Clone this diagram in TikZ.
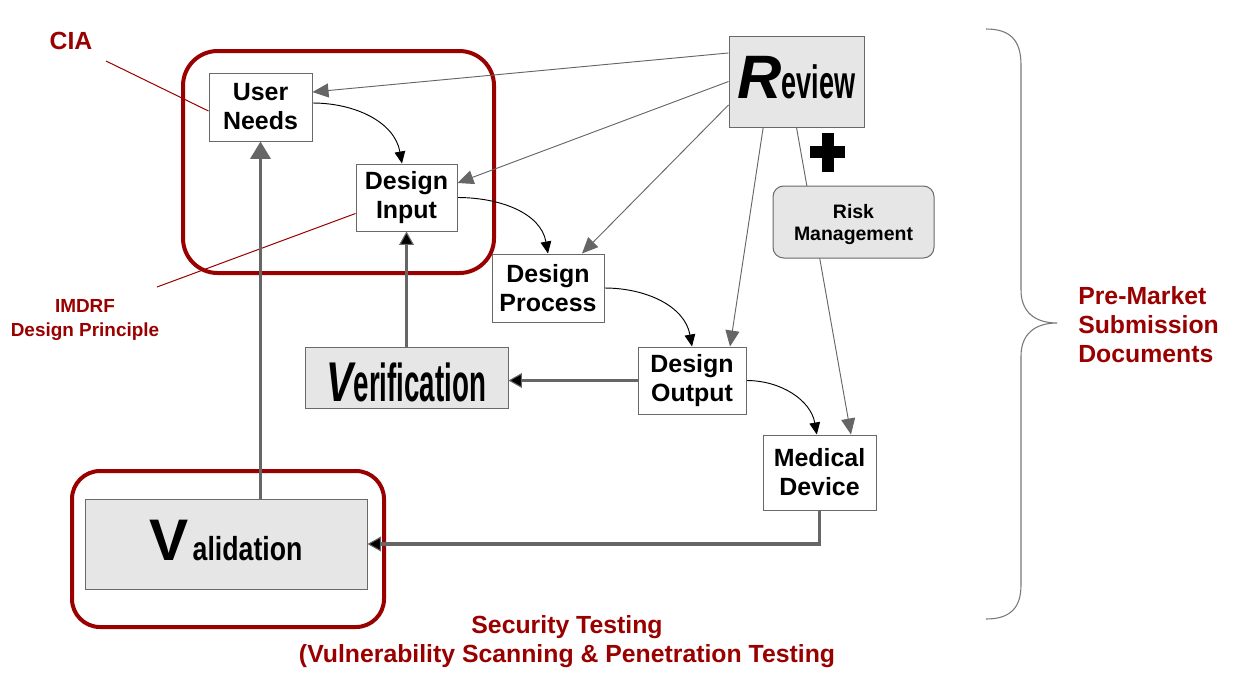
\documentclass[tikz,border=0pt]{standalone}
\usepackage{fontspec}
\setmainfont{Liberation Sans}
\usetikzlibrary{arrows.meta,backgrounds,calc}
\definecolor{dred}{RGB}{153,0,0}
\definecolor{lgray}{RGB}{102,102,102}
\definecolor{bfill}{RGB}{230,230,230}
\definecolor{bline}{RGB}{105,105,105}
\definecolor{brgray}{RGB}{120,120,120}
\tikzset{
  box/.style={draw=bline, line width=0.75pt, fill=white, align=center, inner sep=0pt,
    font=\bfseries\fontsize{18.7}{21.75}\selectfont},
  gbox/.style={box, fill=bfill},
  wd/.style={minimum width=#1*0.75pt},
  ht/.style={minimum height=#1*0.75pt},
  redframe/.style={draw=dred, line width=3pt},
  redlink/.style={draw=dred, line width=0.75pt},
  redtext/.style={text=dred, font=\bfseries\fontsize{18.6}{21.75}\selectfont, align=center, inner sep=0pt},
  revline/.style={draw=lgray, line width=0.7pt, -{Triangle[length=12pt,width=10.5pt,fill=lgray]}},
  flow/.style={draw=black, line width=0.7pt, -{Triangle[length=9pt,width=8pt]}},
  thickln/.style={draw=lgray, line width=2.4pt},
  thickhead/.style={thickln, -{Triangle[length=10pt,width=11pt,line width=0.8pt,fill=black]}},
  thickgray/.style={thickln, -{Triangle[length=13pt,width=15pt,fill=lgray]}}
}
\begin{document}
\begin{tikzpicture}[x=0.75pt,y=-0.75pt]
\useasboundingbox (0,0) rectangle (1244,676);

% boxes
\node[box, wd=103, ht=68] (un) at (260.5,107) {User\\Needs};
\node[box, wd=101, ht=67] (di) at (406.5,197.5) {Design\\Input};
\node[box, wd=112, ht=68] (dp) at (548,288) {Design\\Process};
\node[box, wd=108, ht=67] (do) at (692,380.5) {Design\\Output};
\node[box, wd=113, ht=75] (md) at (819.5,472.5) {Medical\\Device};
\node[gbox, wd=135, ht=91] (rv) at (796.5,81.5) {\raisebox{3pt}[\height][\depth]{{\fontsize{46}{46}\selectfont\bfseries\itshape R}\scalebox{0.58}[1]{\fontsize{35}{35}\selectfont\bfseries eview}}};
\node[gbox, wd=203, ht=61] (vf) at (406.5,377.5) {\raisebox{-4pt}[\height][\depth]{\scalebox{0.72}[1]{\fontsize{42}{42}\selectfont\bfseries\itshape V}\scalebox{0.52}[1]{\fontsize{40}{40}\selectfont\bfseries erification}}};
\node[gbox, wd=282, ht=90] (val) at (226,544) {\raisebox{3pt}[\height][\depth]{{\fontsize{44}{44}\selectfont\bfseries V}\kern3pt\scalebox{0.8}[1]{\fontsize{25}{25}\selectfont\bfseries alidation}}};
\node[gbox, wd=161, ht=72, rounded corners=8pt, font=\bfseries\fontsize{14.6}{18}\selectfont] (rm) at (853.5,222) {\raisebox{-2pt}[\height][\depth]{\begin{tabular}{@{}c@{}}Risk\\[-1.2pt]Management\end{tabular}}};

% labels
\node[redtext] (cia) at (71,41) {CIA};
\node[redtext, font=\bfseries\fontsize{14.2}{17.5}\selectfont] (imdrf) at (85,320) {IMDRF\\Design Principle};
\node[redtext] (sec) at (567,642) {Security Testing\\(Vulnerability Scanning \& Penetration Testing};
\node[redtext, anchor=west, align=left] (pms) at (1078,325) {Pre-Market\\Submission\\Documents};
\coordinate (ciaend) at (106,61);
\coordinate (imdrfend) at (157,287);

\begin{pgfonlayer}{background}
  % red frames
  \draw[redframe, rounded corners=26pt] (183,51) rectangle (494,273);
  \draw[redframe, rounded corners=21pt] (72,471) rectangle (384,627);
  % red pointer lines
  \draw[redlink] (ciaend) -- ([yshift=-3pt]un.west);
  \draw[redlink] (imdrfend) -- ([yshift=-12pt]di.west);
  % review lines
  \draw[revline] ([yshift=21.4pt]rv.west) -- ([yshift=11.25pt]un.east);
  \draw[revline] (rv.west) -- ([yshift=10.9pt]di.east);
  \draw[revline] ([yshift=-17.6pt]rv.west) -- ([xshift=25.5pt]dp.north);
  \draw[revline] ([xshift=-25pt]rv.south) -- ([xshift=28.5pt]do.north);
  \draw[revline] (rv.south) -- ([xshift=23.6pt]md.north);
  % flow curves
  \draw[flow] ([yshift=3pt]un.east) to[out=0,in=100] ([xshift=-3.4pt]di.north);
  \draw[flow] (di.east) to[out=0,in=100] (dp.north);
  \draw[flow] (dp.east) to[out=0,in=100] (do.north);
  \draw[flow] (do.east) to[out=0,in=100] ([xshift=-2pt]md.north);
  % thick arrows
  \draw[thickgray] (un.south |- val.north) -- (un.south);
  \draw[thickhead] (vf.north) -- (di.south);
  \draw[thickhead] (do.west) -- (do.west -| vf.east);
  \draw[thickhead] (md.south) |- (val.east);
\end{pgfonlayer}

% plus sign
\fill[black] (810,146) rectangle (845,158);
\fill[black] (822,133) rectangle (834,172);

% brace
\draw[brgray, line width=0.8pt] (986,29) .. controls (1010,29) and (1021,40) .. (1021,65)
  -- (1021,290) .. controls (1021,312) and (1035,323) .. (1057,323)
  .. controls (1035,323) and (1021,334) .. (1021,356)
  -- (1021,585) .. controls (1021,608) and (1010,619) .. (986,619);
\end{tikzpicture}
\end{document}
